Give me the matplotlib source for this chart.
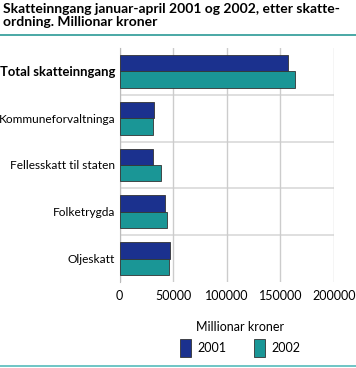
import matplotlib
matplotlib.use("Agg")
import matplotlib.pyplot as plt
import numpy as np

plt.rcParams['font.family'] = ['Lato', 'DejaVu Sans']

categories = ["Total skatteinngang", "Kommuneforvaltninga", "Fellesskatt til staten", "Folketrygda", "Oljeskatt"]
values_2001 = [157400, 32600, 31700, 42300, 47500]
values_2002 = [163700, 31100, 38500, 44100, 46000]
series_labels = ["2001", "2002"]
xticks = [0, 50000, 100000, 150000, 200000]

c2001 = "#1b318e"
c2002 = "#1a9696"
teal_line = "#2a9a96"

fig = plt.figure(figsize=(3.56, 3.68), dpi=100)
ax = fig.add_axes([119.5/356, 1-282/368, (334-119.5)/356, (282-48)/368])

n = len(categories)
y = np.arange(n)
h = 0.35
b1 = ax.barh(y - h/2, values_2001, height=h, color=c2001, edgecolor="#333333", linewidth=0.6, label=series_labels[0], zorder=3)
b2 = ax.barh(y + h/2, values_2002, height=h, color=c2002, edgecolor="#333333", linewidth=0.6, label=series_labels[1], zorder=3)

ax.set_ylim(n - 0.5, -0.5)
ax.set_xlim(0, 200000)
ax.set_xticks(xticks)
ax.set_xticklabels([str(t) for t in xticks], fontsize=9)
ax.set_yticks(y)
ax.set_yticklabels(categories, fontsize=8.6)
for lab in ax.get_yticklabels():
    if lab.get_text() == "Total skatteinngang":
        lab.set_fontweight("bold")
        lab.set_fontsize(9.4)
ax.tick_params(axis="both", length=0, pad=3)
ax.tick_params(axis="x", pad=6)
# separators
for s in np.arange(0.5, n - 0.5, 1):
    ax.axhline(s, color="#d9d9d9", linewidth=1.2, zorder=1)
ax.grid(axis="x", color="#cccccc", linewidth=1.0, zorder=0)
for sp in ["top", "right", "bottom"]:
    ax.spines[sp].set_visible(False)
ax.spines["left"].set_color("#bbbbbb")

fig.text(3/356, 1-3/368, "Skatteinngang januar-april 2001 og 2002, etter skatte-\nordning. Millionar kroner",
         fontsize=10, fontweight="bold", va="top", ha="left", linespacing=1.05)
fig.add_artist(plt.Line2D([0, 1], [1-35/368, 1-35/368], color=teal_line, linewidth=1.2))
fig.add_artist(plt.Line2D([0, 1], [1-366/368, 1-366/368], color="#55bbbb", linewidth=1.2))

leg = fig.legend(handles=[b1, b2], labels=series_labels, loc="center", bbox_to_anchor=(240/356, 1-339/368),
                 ncol=2, frameon=False, fontsize=9, title="Millionar kroner", title_fontsize=9,
                 handlelength=0.9, handleheight=1.9, columnspacing=2.2, handletextpad=0.5)

fig.savefig("out.png", dpi=100)
